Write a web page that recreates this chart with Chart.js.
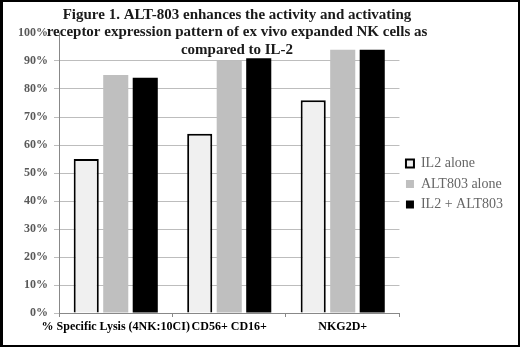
<!DOCTYPE html>
<html>
<head>
<meta charset="utf-8">
<script src="https://cdn.jsdelivr.net/npm/chart.js@4"></script>
<style>
  html, body { margin: 0; padding: 0; background: #fff; }
  #wrap { width: 520px; height: 347px; box-sizing: border-box; border: 2px solid #000; border-left-width: 3px; position: relative; }
  canvas { display: block; }
</style>
</head>
<body>
<div id="wrap"><canvas id="myChart" width="515" height="343"></canvas></div>
<script>
'use strict';

const categories = ['% Specific Lysis (4NK:10CI)', 'CD56+ CD16+', 'NKG2D+'];
const seriesNames = ['IL2 alone', 'ALT803 alone', 'IL2 + ALT803'];
const il2Alone = [55, 64, 76];
const alt803Alone = [85, 90, 94];
const il2PlusAlt803 = [84, 91, 94];
const titleLines = [
  'Figure 1. ALT-803 enhances the activity and activating',
  'receptor expression pattern of ex vivo expanded NK cells as',
  'compared to IL-2'
];

const serif = '"Liberation Serif", "DejaVu Serif", serif';

// title sits over the top of the plot, like the excel one
const titlePlugin = {
  id: 'figTitle',
  afterDraw(chart) {
    const ctx = chart.ctx;
    ctx.save();
    ctx.font = 'bold 15px ' + serif;
    ctx.fillStyle = '#1a1a1a';
    ctx.textAlign = 'center';
    ctx.textBaseline = 'middle';
    const ys = [13, 30, 48];
    for (let i = 0; i < titleLines.length; i++) {
      ctx.fillText(titleLines[i], 234, ys[i]);
    }
    ctx.restore();
  }
};

const chartCanvas = document.getElementById('myChart');

new Chart(chartCanvas, {
  type: 'bar',
  data: {
    labels: categories,
    datasets: [{
      label: seriesNames[0],
      data: il2Alone,
      backgroundColor: '#f0f0f0',
      borderColor: '#000',
      borderWidth: 2
    }, {
      label: seriesNames[1],
      data: alt803Alone,
      backgroundColor: '#bfbfbf',
      borderWidth: 0
    }, {
      label: seriesNames[2],
      data: il2PlusAlt803,
      backgroundColor: '#000',
      borderWidth: 0
    }]
  },
  options: {
    responsive: false,
    animation: false,
    layout: { padding: { top: 31, right: 5, bottom: 0, left: 0 } },
    datasets: { bar: { categoryPercentage: 0.78, barPercentage: 0.85 } },
    plugins: {
      title: { display: false },
      tooltip: { enabled: false },
      legend: {
        position: 'right',
        align: 'start',
        // blank title just pushes the items down to where excel had them
        title: { display: true, text: ' ', font: { size: 10 }, padding: { top: 105, bottom: 0 } },
        labels: {
          boxWidth: 8,
          boxHeight: 8,
          padding: 6.5,
          color: '#1a1a1a',
          font: { family: serif, size: 14 },
          generateLabels(chart) {
            return chart.data.datasets.map((ds, i) => ({
              text: ds.label,
              fillStyle: ds.backgroundColor,
              strokeStyle: '#000',
              lineWidth: i === 0 ? 2 : 0,
              datasetIndex: i
            }));
          }
        }
      }
    },
    scales: {
      x: {
        afterFit(scale) { scale.height = 32; },
        grid: { drawOnChartArea: false, offset: true, tickLength: 4, color: '#888' },
        border: { color: '#888' },
        ticks: {
          maxRotation: 0,
          minRotation: 0,
          autoSkip: false,
          padding: 3,
          color: '#000',
          font: { family: serif, size: 12, weight: 'bold' }
        }
      },
      y: {
        min: 0,
        max: 100,
        afterFit(scale) { scale.width = 56; },
        grid: {
          tickLength: 5,
          color: (c) => (c.tick && c.tick.value === 100 ? 'rgba(0,0,0,0)' : '#bdbdbd')
        },
        border: { color: '#888' },
        ticks: {
          stepSize: 10,
          padding: 6,
          color: '#595959',
          font: { family: serif, size: 12, weight: 'bold' },
          callback: (v) => v + '%'
        }
      }
    }
  },
  plugins: [titlePlugin]
});
</script>
</body>
</html>
